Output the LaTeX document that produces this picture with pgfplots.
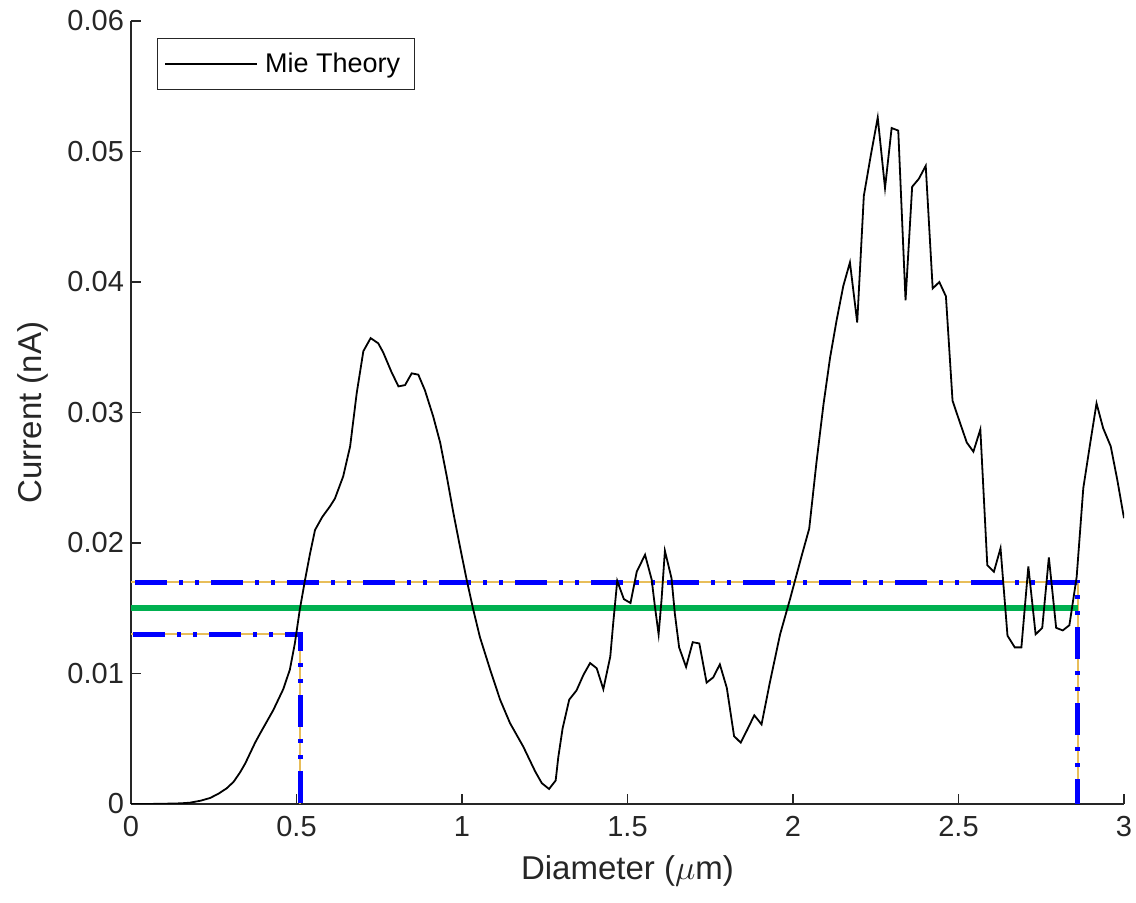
\documentclass[border=0pt]{standalone}
\usepackage{fontspec}
\setmainfont{Liberation Sans}
\usepackage{pgfplots}
\pgfplotsset{compat=1.18}
\definecolor{mblue}{RGB}{0,0,255}
\definecolor{mgreen}{RGB}{0,176,80}
\definecolor{myellow}{RGB}{232,190,90}
\definecolor{axgray}{RGB}{38,38,38}
\begin{document}
\begin{tikzpicture}
\path[use as bounding box] (-65.5pt,-49.5pt) rectangle (502.5pt,402pt);
\begin{axis}[
  scale only axis, width=496.5pt, height=391.5pt,
  xmin=0, xmax=3, ymin=0, ymax=0.06,
  axis x line*=bottom, axis y line*=left,
  axis line style={axgray, line width=0.6pt},
  tick align=inside, major tick length=5pt,
  tick style={axgray, line width=0.6pt},
  xtick={0,0.5,1,1.5,2,2.5,3},
  xticklabels={0,0.5,1,1.5,2,2.5,3},
  ytick={0,0.01,0.02,0.03,0.04,0.05,0.06},
  yticklabels={0,0.01,0.02,0.03,0.04,0.05,0.06},
  ticklabel style={font=\fontsize{14.5}{17}\selectfont, text=axgray},
  xticklabel style={yshift=-2.5pt},
  xlabel={Diameter ($\mu$m)},
  ylabel={Current (nA)},
  label style={font=\fontsize{16.5}{20}\selectfont, text=axgray},
  xlabel style={at={(axis description cs:0.5,-0.086)}, anchor=center},
  ylabel style={at={(axis description cs:-0.0987,0.5)}, anchor=center},
  legend style={at={(axis description cs:0.026,0.978)}, anchor=north west,
    draw=axgray, line width=0.5pt, font=\fontsize{13.5}{16}\selectfont,
    inner xsep=3.5pt, inner ysep=5pt, legend cell align=left,
    nodes={inner xsep=3.5pt}},
  legend image code/.code={\draw[#1] (0pt,0pt) -- (46pt,0pt);},
]
\addplot[myellow, line width=1pt, forget plot] coordinates {(0,0.017) (2.861,0.017) (2.861,0)};
\addplot[mblue, line width=2.5pt, dash pattern=on 16pt off 6pt on 2pt off 6pt on 2pt off 6pt, forget plot] coordinates {(0.012,0.017) (2.861,0.017) (2.861,0)};
\addplot[myellow, line width=1pt, forget plot] coordinates {(0,0.013) (0.511,0.013) (0.511,0)};
\addplot[mblue, line width=2.5pt, dash pattern=on 16pt off 6pt on 2pt off 6pt on 2pt off 6pt, forget plot] coordinates {(0.006,0.013) (0.511,0.013) (0.511,0)};
\addplot[mgreen, line width=3pt, forget plot] coordinates {(0,0.015) (2.861,0.015)};
\addplot[black, line width=0.9pt] coordinates {
(0,0) (0.05,0) (0.1,0.00002) (0.15,0.00005) (0.178,0.0001) (0.21,0.00025)
(0.239,0.00046) (0.265,0.0008) (0.289,0.0012) (0.31,0.0017) (0.329,0.0024)
(0.345,0.0031) (0.36,0.0039) (0.375,0.0047) (0.39,0.0054) (0.41,0.0063)
(0.43,0.0072) (0.46,0.0088) (0.48,0.0103) (0.495,0.0123) (0.51,0.0149)
(0.526,0.0172) (0.541,0.0192) (0.556,0.021) (0.578,0.022) (0.601,0.0228)
(0.616,0.0234) (0.641,0.0251) (0.662,0.0274) (0.682,0.0315) (0.702,0.0347)
(0.724,0.0357) (0.747,0.0353) (0.762,0.0346) (0.787,0.0331) (0.808,0.032)
(0.828,0.0321) (0.848,0.033) (0.868,0.0329) (0.888,0.0317) (0.913,0.0297)
(0.934,0.0277) (0.954,0.0251) (0.974,0.0223) (0.994,0.0197) (1.014,0.0172)
(1.034,0.0149) (1.054,0.0128) (1.085,0.0103) (1.115,0.008) (1.145,0.0062)
(1.185,0.0044) (1.221,0.0025) (1.241,0.0016) (1.263,0.00115) (1.283,0.0018)
(1.291,0.0036) (1.304,0.0058) (1.324,0.008) (1.346,0.0087) (1.367,0.0099)
(1.387,0.0108) (1.407,0.0104) (1.427,0.0088) (1.448,0.0113) (1.457,0.0139)
(1.469,0.0171) (1.489,0.0157) (1.509,0.0154) (1.528,0.0178) (1.553,0.0191)
(1.573,0.0172) (1.583,0.0151) (1.594,0.013) (1.603,0.0157) (1.613,0.0194)
(1.633,0.0173) (1.643,0.0146) (1.656,0.012) (1.677,0.0105) (1.697,0.0124)
(1.717,0.0123) (1.739,0.0093) (1.759,0.0097) (1.779,0.0107) (1.8,0.0089)
(1.822,0.0052) (1.842,0.0047) (1.862,0.0057) (1.883,0.0068) (1.905,0.0061)
(1.93,0.0093) (1.961,0.013) (1.991,0.0157) (2.026,0.019) (2.049,0.0211)
(2.071,0.0262) (2.092,0.0306) (2.112,0.0342) (2.132,0.0371) (2.152,0.0397)
(2.172,0.0415) (2.194,0.0369) (2.214,0.0466) (2.235,0.0497) (2.256,0.0526)
(2.278,0.0472) (2.298,0.0518) (2.318,0.0516) (2.34,0.0386) (2.36,0.0473)
(2.38,0.0479) (2.401,0.0489) (2.422,0.0395) (2.442,0.04) (2.462,0.0389)
(2.482,0.0309) (2.502,0.0294) (2.525,0.0277) (2.545,0.027) (2.566,0.0287)
(2.587,0.0183) (2.607,0.0178) (2.627,0.0196) (2.648,0.0129) (2.67,0.012)
(2.69,0.012) (2.711,0.0182) (2.733,0.013) (2.753,0.0135) (2.773,0.0189)
(2.795,0.0135) (2.815,0.0133) (2.835,0.0137) (2.857,0.0174) (2.877,0.0242)
(2.897,0.0275) (2.917,0.0307) (2.937,0.0288) (2.96,0.0274) (2.98,0.0248)
(3.0,0.0219)
};
\addlegendentry{Mie Theory}
\end{axis}
\end{tikzpicture}
\end{document}
